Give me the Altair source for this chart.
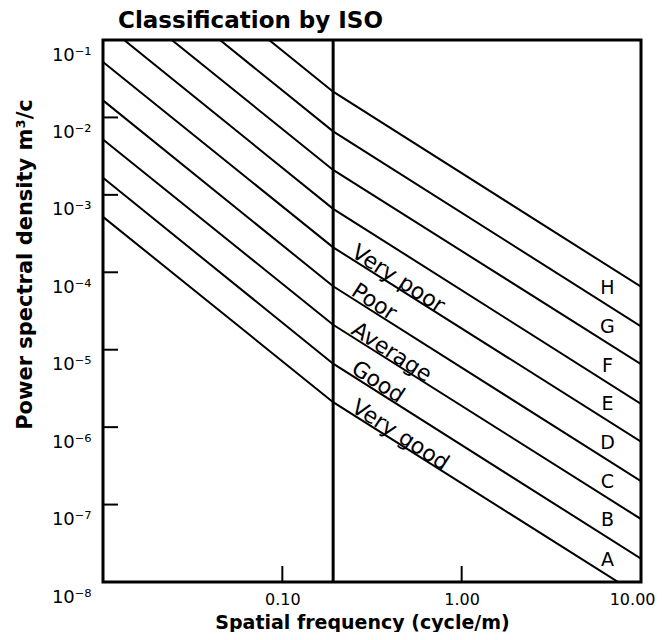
import altair as alt
import pandas as pd

# ---- data ----
knee_freq = 0.192                      # vertical reference line (cycle/m)
line_freqs = [0.01, 0.192, 10.0]       # x points of each class boundary line
left_psd = [5.2e-4, 1.66e-3, 5.2e-3, 1.66e-2, 5.2e-2, 0.166, 0.52, 1.66, 5.4]
knee_psd = [2.1e-6, 6.6e-6, 2.1e-5, 6.6e-5, 2.1e-4, 6.6e-4, 2.1e-3, 6.6e-3, 2.15e-2]
right_psd = [6.5e-9, 2.0e-8, 6.5e-8, 2.0e-7, 6.5e-7, 2.0e-6, 6.5e-6, 2.0e-5, 6.5e-5]

class_names = ["A", "B", "C", "D", "E", "F", "G", "H"]
class_psd = [1.9e-8, 6.3e-8, 1.95e-7, 6.2e-7, 2.0e-6, 6.2e-6, 1.95e-5, 6.3e-5]
class_freq = 6.5

quality_names = ["Very good", "Good", "Average", "Poor", "Very poor"]
quality_psd = [1.55e-6, 4.9e-6, 1.55e-5, 4.9e-5, 1.55e-4]
quality_freq = 0.235

y_tick_vals = [1e-8, 1e-7, 1e-6, 1e-5, 1e-4, 1e-3, 1e-2, 1e-1]
x_label_vals = [0.1, 1.0, 10.0]
x_inner_ticks = [0.1, 1.0]
y_inner_ticks = [1e-7, 1e-6, 1e-5, 1e-4, 1e-3, 1e-2]

W, H = 538, 542
FONT = "DejaVu Sans"

rows = []
for i in range(len(left_psd)):
    for f, p in zip(line_freqs, [left_psd[i], knee_psd[i], right_psd[i]]):
        rows.append({"line": i, "freq": f, "psd": p})
lines_df = pd.DataFrame(rows)

xscale = alt.Scale(type="log", domain=[0.01, 10])
yscale = alt.Scale(type="log", domain=[1e-8, 1e-1])

x_axis = alt.Axis(
    values=x_label_vals, format=".2f", grid=False, ticks=False, domain=False,
    labelFont=FONT, labelFontSize=16, labelColor="black", labelPadding=9,
    labelFlush=True, labelFlushOffset=14, labelOverlap=False,
    title="Spatial frequency (cycle/m)", titleFont=FONT, titleFontSize=19,
    titleFontWeight="bold", titleColor="black",
    titleX=W / 2 - 10, titleY=40, titleAlign="center", titleBaseline="middle",
)
y_axis = alt.Axis(
    values=y_tick_vals, grid=False, ticks=False, domain=False,
    labelExpr="'10⁻' + ['⁰','¹','²','³','⁴','⁵','⁶','⁷','⁸'][round(-log(datum.value)/LN10)]",
    labelFont=FONT, labelFontSize=18, labelColor="black", labelPadding=12,
    labelOffset=15, labelFlush=False, labelOverlap=False,
    title="Power spectral density m³/c", titleFont=FONT, titleFontSize=21,
    titleFontWeight="bold", titleColor="black", titleAngle=270,
    titleX=-78, titleY=224, titleAlign="center", titleBaseline="middle",
)

lines = alt.Chart(lines_df).mark_line(color="black", strokeWidth=2, clip=True).encode(
    x=alt.X("freq:Q", scale=xscale, axis=x_axis),
    y=alt.Y("psd:Q", scale=yscale, axis=y_axis),
    detail="line:N",
)

vline = alt.Chart(pd.DataFrame({"freq": [knee_freq]})).mark_rule(
    color="black", strokeWidth=3).encode(x=alt.X("freq:Q", scale=xscale))

yt = alt.Chart(pd.DataFrame({"psd": y_inner_ticks})).mark_rule(
    color="black", strokeWidth=2).encode(
    y=alt.Y("psd:Q", scale=yscale), x=alt.value(0), x2=alt.value(15))

xt = alt.Chart(pd.DataFrame({"freq": x_inner_ticks})).mark_rule(
    color="black", strokeWidth=2).encode(
    x=alt.X("freq:Q", scale=xscale), y=alt.value(H), y2=alt.value(H - 16))

cls = alt.Chart(pd.DataFrame({"name": class_names, "psd": class_psd,
                              "freq": [class_freq] * len(class_names)})).mark_text(
    font=FONT, fontSize=19, color="black", align="center", baseline="middle").encode(
    x=alt.X("freq:Q", scale=xscale), y=alt.Y("psd:Q", scale=yscale), text="name:N")

qual = alt.Chart(pd.DataFrame({"name": quality_names, "psd": quality_psd,
                               "freq": [quality_freq] * len(quality_names)})).mark_text(
    font=FONT, fontSize=22, color="black", align="left", baseline="alphabetic",
    angle=33, dy=-2).encode(
    x=alt.X("freq:Q", scale=xscale), y=alt.Y("psd:Q", scale=yscale), text="name:N")

chart = alt.layer(lines, vline, yt, xt, cls, qual).properties(
    width=W, height=H,
    background="white",
    title=alt.TitleParams("Classification by ISO", anchor="start", frame="group",
                          dx=15, offset=6, font=FONT, fontSize=23, fontWeight="bold",
                          color="black"),
    autosize=alt.AutoSizeParams(type="none"),
    padding={"left": 95, "top": 32, "right": 18, "bottom": 50},
).configure_view(stroke="black", strokeWidth=3)

chart.save("out.html", embed_options={"renderer": "svg", "actions": False})
